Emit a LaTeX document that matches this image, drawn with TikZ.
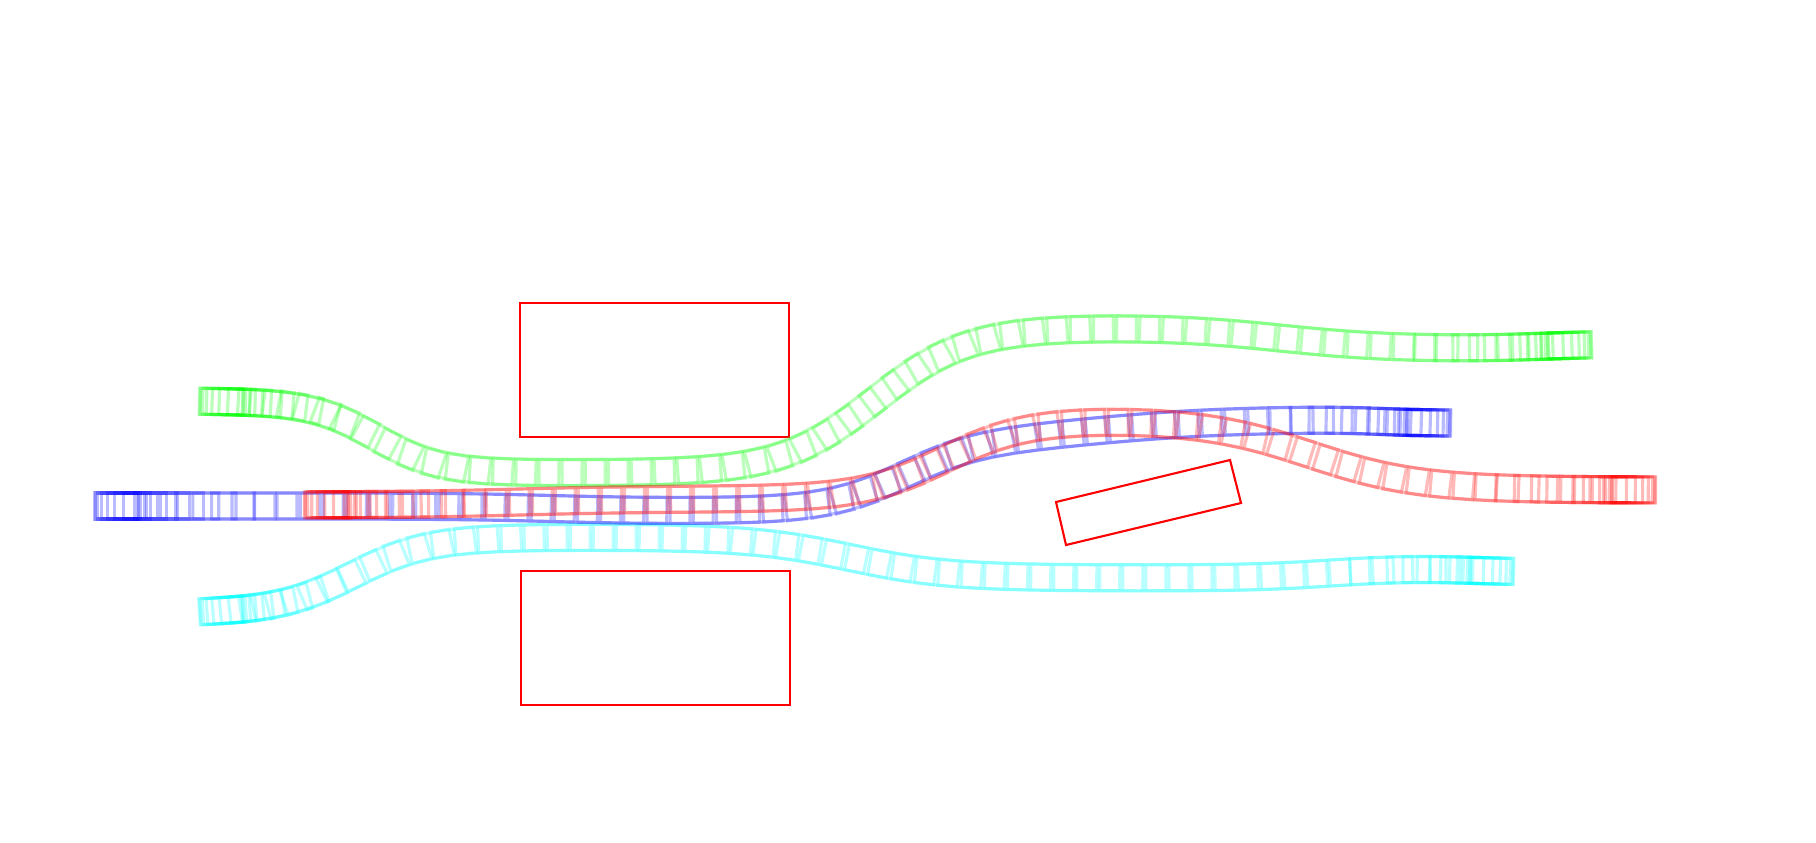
\documentclass[tikz,border=0pt]{standalone}
\definecolor{carcyan}{RGB}{0,255,255}
\definecolor{cargreen}{RGB}{0,255,0}
\definecolor{carblue}{RGB}{0,0,255}
\definecolor{carred}{RGB}{255,0,0}

\begin{document}
\begin{tikzpicture}[
        x=0.01cm, y=-0.01cm,
        obstacle/.style={draw=carred, line width=0.6pt},
        car/.style={draw=#1, draw opacity=0.27, line width=0.9pt},
        declare function={
            sg(\u,\c,\w)=(1+tanh(max(-4,min(4,(\u-\c)/\w))))/2;
            dsg(\u,\c,\w)=(1-pow(tanh(max(-4,min(4,(\u-\c)/\w))),2))/(2*\w);
            ease(\t)=(\t<0.2 ? \t*\t/0.4 : (\t<0.8 ? \t-0.1 : 0.8-(1-\t)*(1-\t)/0.4))/0.8;
            ygreen(\u)=401+72*sg(\u,375,66)-146*sg(\u,875,95)+22*sg(\u,1280,110)-5*sg(\u,1540,70);
            dygreen(\u)=72*dsg(\u,375,66)-146*dsg(\u,875,95)+22*dsg(\u,1280,110)-5*dsg(\u,1540,70);
            ycyan(\u)=613-76*sg(\u,353,78)+41*sg(\u,850,100)-10*sg(\u,1330,80)+4*sg(\u,1470,60);
            dycyan(\u)=-76*dsg(\u,353,78)+41*dsg(\u,850,100)-10*dsg(\u,1330,80)+4*dsg(\u,1470,60);
            yblue(\u)=506+5*sg(\u,550,100)-70*sg(\u,905,80)-22*sg(\u,1100,140)+4*sg(\u,1380,50);
            dyblue(\u)=5*dsg(\u,550,100)-70*dsg(\u,905,80)-22*dsg(\u,1100,140)+4*dsg(\u,1380,50);
            yred(\u)=505-6*sg(\u,520,120)-80*sg(\u,945,85)+71*sg(\u,1310,110);
            dyred(\u)=-6*dsg(\u,520,120)-80*dsg(\u,945,85)+71*dsg(\u,1310,110);
        }
    ]
    \useasboundingbox (0,0) rectangle (1816,843);

    % obstacles
    \draw[obstacle] (520,303) rectangle (789,437);
    \draw[obstacle] (521,571) rectangle (790,705);
    \draw[obstacle] (1056,502) -- (1230,460) -- (1241,503) -- (1066,545) -- cycle;

    % green car
    \foreach \i in {0,...,73} {
        \pgfmathsetmacro{\xc}{221+1349*ease(\i/73)}
        \pgfmathsetmacro{\yc}{ygreen(\xc)}
        \pgfmathsetmacro{\ang}{-atan(dygreen(\xc))}
        \draw[car=cargreen, shift={(\xc,\yc)}, rotate=\ang] (-0.215cm,-0.13cm) rectangle (0.215cm,0.13cm);
    }
    % cyan car
    \foreach \i in {0,...,69} {
        \pgfmathsetmacro{\xc}{221+1271*ease(\i/69)}
        \pgfmathsetmacro{\yc}{ycyan(\xc)}
        \pgfmathsetmacro{\ang}{-atan(dycyan(\xc))}
        \draw[car=carcyan, shift={(\xc,\yc)}, rotate=\ang] (-0.215cm,-0.13cm) rectangle (0.215cm,0.13cm);
    }
    % blue car
    \foreach \i in {0,...,71} {
        \pgfmathsetmacro{\xc}{116+1313*ease(\i/71)}
        \pgfmathsetmacro{\yc}{yblue(\xc)}
        \pgfmathsetmacro{\ang}{-atan(dyblue(\xc))}
        \draw[car=carblue, shift={(\xc,\yc)}, rotate=\ang] (-0.215cm,-0.13cm) rectangle (0.215cm,0.13cm);
    }
    % red car
    \foreach \i in {0,...,71} {
        \pgfmathsetmacro{\xc}{326+1308*ease(\i/71)}
        \pgfmathsetmacro{\yc}{yred(\xc)}
        \pgfmathsetmacro{\ang}{-atan(dyred(\xc))}
        \draw[car=carred, shift={(\xc,\yc)}, rotate=\ang] (-0.215cm,-0.13cm) rectangle (0.215cm,0.13cm);
    }

\end{tikzpicture}
\end{document}
